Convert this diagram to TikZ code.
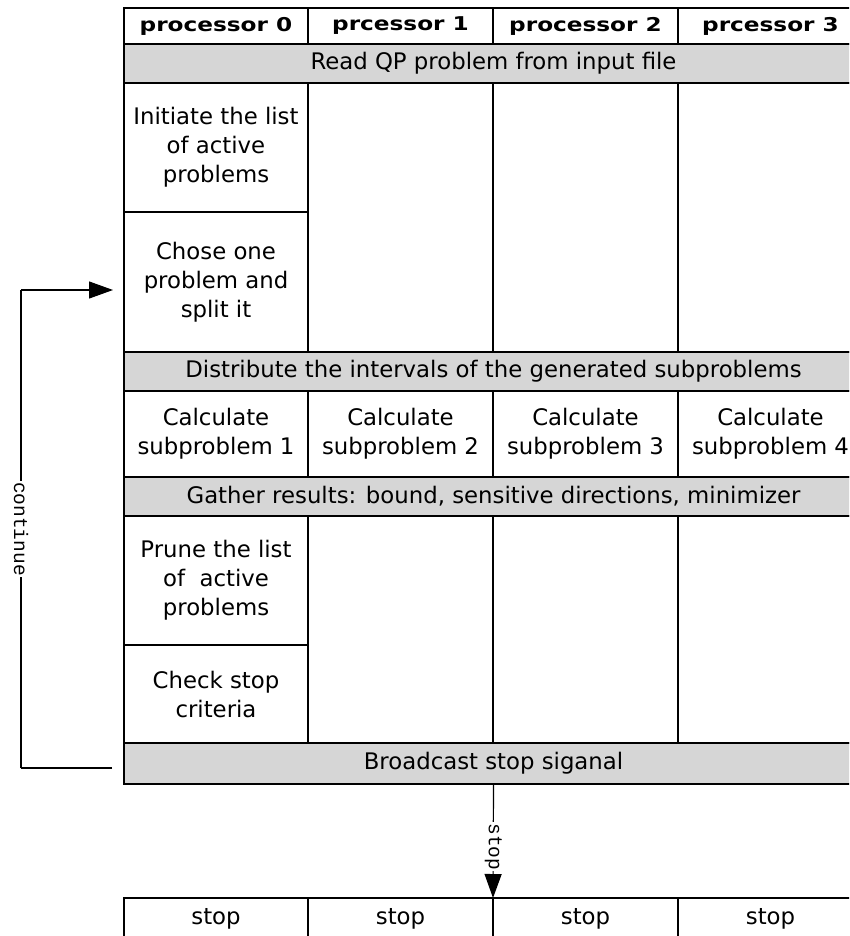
\documentclass[tikz,border=0pt]{standalone}
\usepackage{fontspec}
\setmainfont{DejaVu Sans}
\setmonofont{Liberation Mono}
\usetikzlibrary{arrows.meta}
\begin{document}
\begin{tikzpicture}[x=1pt,y=-1pt,
  tbl/.style={draw, line width=1.4pt, inner sep=0pt, outer sep=0pt, align=center,
    font=\fontsize{22.8}{29}\selectfont},
  band/.style={tbl, fill=black!16},
  hdr/.style={tbl, font=\fontsize{19}{22}\selectfont\bfseries},
  wa/.style={minimum width=184pt}, wb/.style={minimum width=185pt},
  wf/.style={minimum width=739pt},
  lbl/.style={font=\ttfamily\fontsize{19.5}{19.5}\selectfont, rotate=-90,
    fill=white, inner sep=1pt},
  conn/.style={line width=1.2pt},
  tip/.style={-{Triangle[length=24pt,width=17pt]}}
]
\useasboundingbox (0,0) rectangle (849,936);
\clip (0,0) rectangle (849,936);

% header
\node[hdr, wa, minimum height=36pt] (h0) at (216,26) {\scalebox{1.22}[1]{processor 0}};
\node[hdr, wb, minimum height=36pt] (h1) at (400.5,26) {\scalebox{1.22}[1]{prcessor 1}};
\node[hdr, wb, minimum height=36pt] (h2) at (585.5,26) {\scalebox{1.22}[1]{processor 2}};
\node[hdr, wb, minimum height=36pt] (h3) at (770.5,26) {\scalebox{1.22}[1]{prcessor 3}};

\node[band, wf, minimum height=39pt] (read) at (493.5,63.5) {Read QP problem from input file};

\node[tbl, wa, minimum height=129pt] (init) at (216,147.5) {Initiate the list\\of active\\problems};
\node[tbl, wa, minimum height=140pt] (chose) at (216,282) {Chose one\\problem and\\split it};
\node[tbl, wb, minimum height=269pt] (e1) at (400.5,217.5) {};
\node[tbl, wb, minimum height=269pt] (e2) at (585.5,217.5) {};
\node[tbl, wb, minimum height=269pt] (e3) at (770.5,217.5) {};

\node[band, wf, minimum height=39pt] (dist) at (493.5,371.5) {Distribute the intervals of the generated subproblems};

\node[tbl, wa, minimum height=86pt] (c1) at (216,434) {Calculate\\subproblem 1};
\node[tbl, wb, minimum height=86pt] (c2) at (400.5,434) {Calculate\\subproblem 2};
\node[tbl, wb, minimum height=86pt] (c3) at (585.5,434) {Calculate\\subproblem 3};
\node[tbl, wb, minimum height=86pt] (c4) at (770.5,434) {Calculate\\subproblem 4};

\node[band, wf, minimum height=39pt] (gather) at (493.5,496.5) {Gather results: bound, sensitive directions, minimizer};

\node[tbl, wa, minimum height=129pt] (prune) at (216,580.5) {Prune the list\\of\ \ active\\problems};
\node[tbl, wa, minimum height=98pt] (check) at (216,694) {Check stop\\criteria};
\node[tbl, wb, minimum height=227pt] (f1) at (400.5,629.5) {};
\node[tbl, wb, minimum height=227pt] (f2) at (585.5,629.5) {};
\node[tbl, wb, minimum height=227pt] (f3) at (770.5,629.5) {};

\node[band, wf, minimum height=41pt] (bcast) at (493.5,763.5) {Broadcast stop siganal};

% stop row
\node[tbl, wa, minimum height=42pt] (s1) at (216,919) {stop};
\node[tbl, wb, minimum height=42pt] (s2) at (400.5,919) {stop};
\node[tbl, wb, minimum height=42pt] (s3) at (585.5,919) {stop};
\node[tbl, wb, minimum height=42pt] (s4) at (770.5,919) {stop};

% stop arrow
\draw[conn, tip] (bcast.south) -- (s3.north west)
  node[lbl, pos=0.55] (stoplbl) {stop};

% continue loop
\coordinate (lb) at (112,768);
\coordinate (lbl) at (21,768);
\coordinate (ltl) at (21,290);
\coordinate (la) at (113,290);
\draw[conn] (lb) -- (lbl);
\draw[conn] (lbl) -- (ltl) node[lbl, pos=0.5] (contlbl) {continue};
\draw[conn, tip] (ltl) -- (la);
\end{tikzpicture}
\end{document}
